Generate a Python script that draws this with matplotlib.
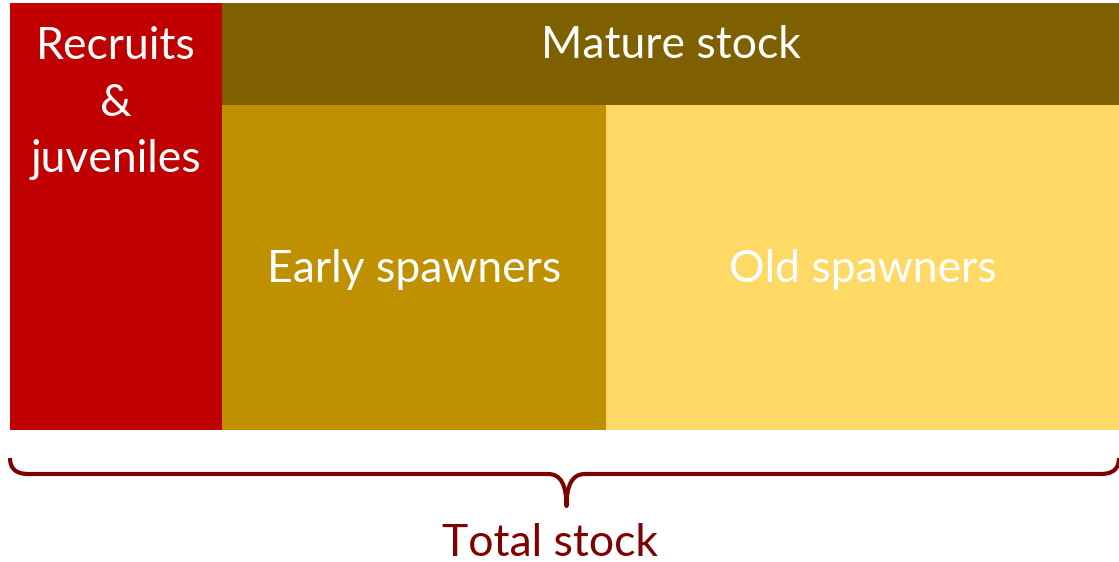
import matplotlib
matplotlib.use("Agg")
import matplotlib.pyplot as plt
from matplotlib.path import Path
from matplotlib.patches import PathPatch

# stock composition (relative widths of the blocks)
segments = ["Recruits\n&\njuveniles", "Early spawners", "Old spawners"]
seg_widths = [212, 384, 513]
seg_colors = ["#C00000", "#BF9000", "#FFD966"]
mature_label = "Mature stock"
mature_color = "#7F6000"
total_label = "Total stock"
brace_color = "#7F0000"

fig = plt.figure(figsize=(11.19, 5.62), dpi=100)
ax = fig.add_axes([0, 0, 1, 1])
ax.set_xlim(0, 1119)
ax.set_ylim(562, 0)
ax.axis("off")

x0 = 10
top, band, bottom = 3, 105, 430
font = "Lato"
fs = 32

left = x0
for i, (label, w, c) in enumerate(zip(segments, seg_widths, seg_colors)):
    if i == 0:
        ax.bar(left, bottom - top, width=w, bottom=top, align="edge", color=c, linewidth=0)
        ax.text(left + w / 2, 103, label, ha="center", va="center", color="white",
                fontsize=fs, family=font, linespacing=1.47)
    else:
        ax.bar(left, bottom - band, width=w, bottom=band, align="edge", color=c, linewidth=0)
        ax.text(left + w / 2, 270, label, ha="center", va="center", color="white",
                fontsize=fs, family=font)
    left += w

mature_w = sum(seg_widths[1:])
mx = x0 + seg_widths[0]
ax.bar(mx, band - top, width=mature_w, bottom=top, align="edge", color=mature_color, linewidth=0)
ax.text(mx + mature_w / 2, 46, mature_label, ha="center", va="center", color="white",
        fontsize=fs, family=font)

# curly brace under the whole stock
x1 = x0 + sum(seg_widths)
xm = (x0 + x1) / 2 + 2
yt, yh, yb = 458, 474, 506
r = 18
verts = [(x0, yt), (x0, yh), (x0 + r, yh),
         (xm - r, yh), (xm, yh), (xm, yb),
         (xm, yh), (xm + r, yh),
         (x1 - r, yh), (x1, yh), (x1, yt)]
codes = [Path.MOVETO, Path.CURVE3, Path.CURVE3,
         Path.LINETO, Path.CURVE3, Path.CURVE3,
         Path.CURVE3, Path.CURVE3,
         Path.LINETO, Path.CURVE3, Path.CURVE3]
ax.add_patch(PathPatch(Path(verts, codes), fill=False, edgecolor=brace_color, linewidth=3,
                       capstyle="butt", joinstyle="round"))
ax.text(550, 543, total_label, ha="center", va="center", color=brace_color,
        fontsize=fs, family=font)

fig.savefig("out.png", dpi=100)
